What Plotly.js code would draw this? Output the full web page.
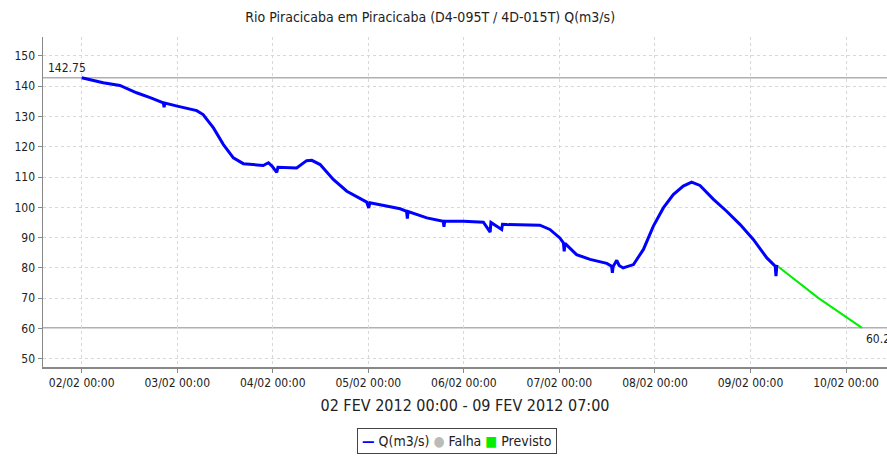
<!DOCTYPE html>
<html>
<head>
<meta charset="utf-8">
<script src="https://cdn.plot.ly/plotly-3.0.1.min.js"></script>
<style>html,body{margin:0;padding:0;background:#fff;}#chart{width:887px;height:460px;}</style>
</head>
<body>
<div id="chart"></div>
<script>
// Observed flow Q(m3/s)
const obsTimes = [
  "2012-02-02 00:00","2012-02-02 05:24","2012-02-02 09:36","2012-02-02 13:48","2012-02-02 17:12",
  "2012-02-02 20:30","2012-02-02 20:42","2012-02-02 20:54","2012-02-03 00:00","2012-02-03 04:54",
  "2012-02-03 06:30","2012-02-03 09:06","2012-02-03 11:36","2012-02-03 14:06","2012-02-03 16:36",
  "2012-02-03 21:36","2012-02-03 22:54","2012-02-03 23:48","2012-02-04 01:00","2012-02-04 01:18",
  "2012-02-04 06:00","2012-02-04 08:30","2012-02-04 09:48","2012-02-04 11:54","2012-02-04 15:12",
  "2012-02-04 18:36","2012-02-04 23:36","2012-02-05 00:06","2012-02-05 00:24","2012-02-05 04:36",
  "2012-02-05 08:00","2012-02-05 09:36","2012-02-05 09:48","2012-02-05 10:00","2012-02-05 14:42",
  "2012-02-05 18:48","2012-02-05 19:00","2012-02-05 19:12","2012-02-05 23:54","2012-02-06 04:54",
  "2012-02-06 06:36","2012-02-06 06:48","2012-02-06 09:30","2012-02-06 09:42","2012-02-06 10:48",
  "2012-02-06 19:06","2012-02-06 21:36","2012-02-07 00:06","2012-02-07 01:00","2012-02-07 01:12",
  "2012-02-07 01:24","2012-02-07 04:18","2012-02-07 07:42","2012-02-07 11:54","2012-02-07 13:06",
  "2012-02-07 13:18","2012-02-07 13:30","2012-02-07 14:24","2012-02-07 15:00","2012-02-07 16:00",
  "2012-02-07 18:36","2012-02-07 21:06","2012-02-07 23:36","2012-02-08 02:06","2012-02-08 04:36",
  "2012-02-08 07:06","2012-02-08 09:12","2012-02-08 11:18","2012-02-08 14:42","2012-02-08 18:00",
  "2012-02-08 21:24","2012-02-09 00:42","2012-02-09 04:06","2012-02-09 06:12","2012-02-09 06:24",
  "2012-02-09 06:36","2012-02-09 07:00"
];
const obsValues = [
  142.75,141.1,140.2,137.8,136.2,
  134.5,133.0,134.4,133.4,131.9,
  130.6,126.2,120.7,116.3,114.4,
  113.8,114.7,113.6,111.5,113.2,
  113.0,115.4,115.5,114.1,109.2,
  105.3,101.7,99.8,101.5,100.4,
  99.5,98.7,96.3,98.6,96.5,
  95.4,93.6,95.4,95.4,95.1,
  91.8,95.0,92.7,94.4,94.3,
  94.1,92.7,89.9,88.3,85.5,
  88.1,84.4,82.8,81.5,80.6,
  78.4,80.5,82.5,80.8,80.0,
  81.1,86.1,93.8,99.8,104.2,
  107.0,108.3,107.2,102.6,98.7,
  94.3,89.4,83.3,80.6,77.3,
  80.5,80.4
];
// Forecast (Previsto)
const fcTimes = ["2012-02-09 07:00","2012-02-09 17:00","2012-02-10 04:00"];
const fcValues = [80.4, 70.1, 60.23];
// Reference levels
const maxLevel = 142.75;
const minLevel = 60.23;
const minLabel = "60.23";
const tickVals = ["2012-02-02","2012-02-03","2012-02-04","2012-02-05","2012-02-06","2012-02-07","2012-02-08","2012-02-09","2012-02-10"];
const tickText = ["02/02 00:00","03/02 00:00","04/02 00:00","05/02 00:00","06/02 00:00","07/02 00:00","08/02 00:00","09/02 00:00","10/02 00:00"];
const titleText = "Rio Piracicaba em Piracicaba (D4-095T / 4D-015T) Q(m3/s)";
const xTitleText = "02 FEV 2012 00:00 - 09 FEV 2012 07:00";
const legendNames = ["Q(m3/s)", "Falha", "Previsto"];
const legendColors = ["#0000ff", "#bbbbbb", "#00ee00"];

const FONT = "DejaVu Sans Condensed, DejaVu Sans, sans-serif";

const traces = [
  {x: obsTimes, y: obsValues, type: "scatter", mode: "lines", name: legendNames[0],
   line: {color: legendColors[0], width: 3}, showlegend: false},
  {x: fcTimes, y: fcValues, type: "scatter", mode: "lines", name: legendNames[2], showlegend: false,
   line: {color: legendColors[2], width: 2}}
];

const legendText =
  '<span style="color:' + legendColors[0] + '"><b>—</b></span> ' + legendNames[0] +
  ' <span style="color:' + legendColors[1] + '">●</span> ' + legendNames[1] +
  ' <span style="color:' + legendColors[2] + '">■</span> ' + legendNames[2];

const layout = {
  width: 887, height: 460,
  margin: {l: 43, r: 0, t: 37, b: 93},
  paper_bgcolor: "#ffffff", plot_bgcolor: "#ffffff",
  font: {family: FONT, size: 12, color: "#222"},
  title: {text: titleText, font: {family: FONT, size: 14, color: "#222"}, x: 0.485, xanchor: "center", y: 0.962, yanchor: "middle"},
  showlegend: false,
  xaxis: {
    type: "date", range: ["2012-02-01 14:17", "2012-02-10 10:17"],
    tickvals: tickVals, ticktext: tickText, tickfont: {family: FONT, size: 12, color: "#222"},
    showgrid: true, gridcolor: "#d8d8d8", griddash: "3px,3px", gridwidth: 1,
    showline: true, linecolor: "#888", linewidth: 1.5,
    ticks: "outside", ticklen: 4, tickcolor: "#888", zeroline: false,
    title: {text: xTitleText, font: {family: FONT, size: 16, color: "#222"}, standoff: 11},
    automargin: false
  },
  yaxis: {
    range: [47.3, 156.2], tickvals: [50,60,70,80,90,100,110,120,130,140,150],
    tickfont: {family: FONT, size: 12, color: "#222"},
    showgrid: true, gridcolor: "#d8d8d8", griddash: "3px,3px", gridwidth: 1,
    showline: true, linecolor: "#888", linewidth: 1.5,
    ticks: "outside", ticklen: 4, tickcolor: "#888", zeroline: false, automargin: false
  },
  shapes: [
    {type: "line", xref: "paper", x0: 0, x1: 1, yref: "y", y0: maxLevel, y1: maxLevel, line: {color: "#b0b0b0", width: 1.5}, layer: "below"},
    {type: "line", xref: "paper", x0: 0, x1: 1, yref: "y", y0: minLevel, y1: minLevel, line: {color: "#b0b0b0", width: 1.5}, layer: "below"}
  ],
  annotations: [
    {text: String(maxLevel), xref: "paper", x: 0.004, xanchor: "left", yref: "y", y: maxLevel, yanchor: "bottom", yshift: 1, showarrow: false, font: {family: FONT, size: 12, color: "#222"}},
    {text: minLabel, xref: "x", x: fcTimes[fcTimes.length - 1], xanchor: "left", xshift: 2, yref: "y", y: minLevel, yanchor: "top", yshift: -2, showarrow: false, font: {family: FONT, size: 12, color: "#222"}},
    {text: legendText, xref: "paper", x: 0.49, xanchor: "center", yref: "paper", y: -0.185, yanchor: "top",
     showarrow: false, bordercolor: "#444", borderwidth: 1, borderpad: 4, bgcolor: "#ffffff",
     font: {family: FONT, size: 14, color: "#222"}}
  ]
};

Plotly.newPlot("chart", traces, layout, {displayModeBar: false, staticPlot: true});
</script>
</body>
</html>
